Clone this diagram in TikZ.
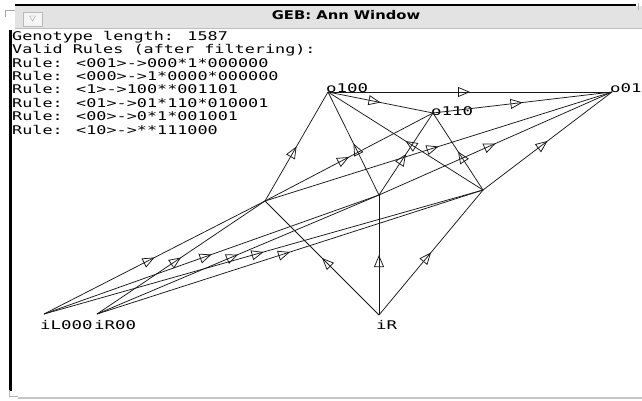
\documentclass[tikz,border=0pt]{standalone}
\usepackage{fontspec}
\usepackage{tikz}
\usetikzlibrary{arrows.meta,decorations.markings}
\newfontfamily\annfont[FakeStretch=1.4]{DejaVu Sans Mono}
\newfontfamily\labfont[FakeStretch=1.45]{DejaVu Sans Mono}
\newfontfamily\titlefont[FakeStretch=1.23]{DejaVu Sans}

\begin{document}
\begin{tikzpicture}[x=1pt, y=-1pt,
		link/.style={draw=black!90, line width=0.75pt, postaction={decorate},
			decoration={markings, mark=at position 0.5 with {\arrow{Triangle[open, length=12pt, width=10pt]}}}},
		lab/.style={font=\labfont\fontsize{12}{12}\selectfont, inner sep=0pt, anchor=base west},
		info/.style={font=\annfont\fontsize{12}{13.4}\selectfont, inner sep=0pt, align=left, anchor=north west}]
		\useasboundingbox (0,0) rectangle (642,400);
		\fill [white] (0,0) rectangle (642,400);
		% window frame
		\fill [gray!22] (15,6) rectangle (642,28);
		\draw [gray!50] (15,28.5) -- (642,28.5);
		\draw [line width=2pt] (15,4.5) -- (636,4.5);
		\draw [gray!60] (638,3) -- (638,10);
		\draw [gray!70] (5,17) -- (5,10) -- (15,10);
		\draw [gray!55, fill=gray!8] (23,12) rectangle (42,26);
		\draw [gray!70] (29.5,16) -- (35.5,16) -- (32.5,21) -- cycle;
		\node [font=\titlefont\bfseries\fontsize{12}{14}\selectfont] (title) at (346,15.5) {GEB: Ann Window};
		\draw [line width=2.4pt] (10.5,30) -- (10.5,391);
		\draw [gray!45, line width=2.5pt] (18,398) -- (642,398);
		\draw [gray!60] (9,390) -- (9,396) -- (18,396);
		% rules
		\node [info] (rules) at (12,31) {Genotype length: 1587\\Valid Rules (after filtering):\\Rule: <001>->000*1*000000\\Rule: <000>->1*0000*000000\\Rule: <1>->100**001101\\Rule: <01>->01*110*010001\\Rule: <00>->0*1*001001\\Rule: <10>->**111000};
		% units
		\coordinate (o100) at (328,92);
		\coordinate (o110) at (433,113);
		\coordinate (o01) at (612,92);
		\coordinate (h1) at (265,201);
		\coordinate (h2) at (379,195);
		\coordinate (h3) at (483,190);
		\coordinate (iL000) at (44,314);
		\coordinate (iR00) at (97,314);
		\coordinate (iR) at (379,315);
		\node [lab] (lo100) at (326,92.5) {o100};
		\node [lab] (lo110) at (431,115.5) {o110};
		\node [lab] (lo01) at (610,92.5) {o01};
		\node [lab] (liL000) at (40,329) {iL000};
		\node [lab] (liR00) at (94,329) {iR00};
		\node [lab] (liR) at (376,329) {iR};
		% connections
		\draw [link] (o100) -- (o01);
		\draw [link] (o100) -- (o110);
		\draw [link] (o110) -- (o01);
		\draw [link] (h1) -- (o100);
		\draw [link] (h2) -- (o100);
		\draw [link] (h3) -- (o100);
		\draw [link] (h1) -- (o110);
		\draw [link] (h2) -- (o110);
		\draw [link] (h3) -- (o110);
		\draw [link] (h1) -- (o01);
		\draw [link] (h2) -- (o01);
		\draw [link] (h3) -- (o01);
		\draw [link] (iL000) -- (h1);
		\draw [link] (iL000) -- (h2);
		\draw [link] (iL000) -- (h3);
		\draw [link] (iR00) -- (h1);
		\draw [link] (iR00) -- (h2);
		\draw [link] (iR00) -- (h3);
		\draw [link] (iR) -- (h1);
		\draw [link] (iR) -- (h2);
		\draw [link] (iR) -- (h3);
	\end{tikzpicture}
\end{document}
